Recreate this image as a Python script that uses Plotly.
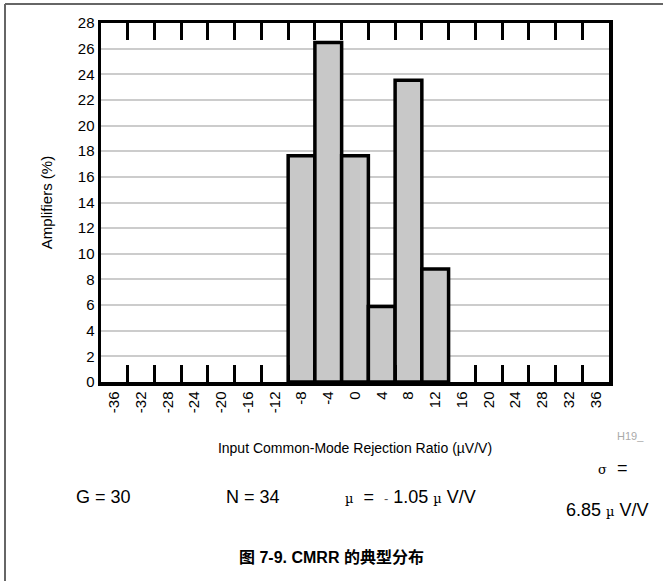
import plotly.graph_objects as go

# Data
bin_centers = [-8, -4, 0, 4, 8, 12]
amplifiers_pct = [17.65, 26.47, 17.65, 5.88, 23.53, 8.82]
tick_centers = list(range(-36, 40, 4))
tick_labels = [str(v) for v in tick_centers]
bin_edges = list(range(-34, 38, 4))
y_ticks = list(range(0, 30, 2))

W, H = 663, 581
L, R, T, B = 101, 609, 23, 382

FONT = "Liberation Sans, Arial, Noto Sans CJK SC, sans-serif"

fig = go.Figure()
fig.add_trace(go.Bar(
    x=bin_centers, y=amplifiers_pct, width=4,
    marker=dict(color="#c8c8c8", line=dict(color="black", width=3.5)),
    showlegend=False, hoverinfo="skip",
))

def px_x(p):
    return (p - L) / (R - L)

def px_y(p):
    return (B - p) / (B - T)

fig.update_layout(
    width=W, height=H,
    margin=dict(l=L, r=W - R, t=T, b=H - B, pad=0),
    paper_bgcolor="white", plot_bgcolor="white",
    font=dict(family=FONT, color="black", size=15),
    bargap=0,
    xaxis=dict(
        range=[-38, 38], tickmode="array", tickvals=tick_centers, ticktext=tick_labels,
        tickangle=-90, ticks="", showgrid=False, zeroline=False,
        showline=True, linecolor="black", linewidth=3.5, mirror="ticks",
        tickfont=dict(size=15),
        minor=dict(tickmode="array", tickvals=bin_edges, ticks="inside", ticklen=17,
                   tickwidth=3, tickcolor="black", showgrid=False),
        title=dict(text="Input Common-Mode Rejection Ratio (µV/V)", font=dict(size=14), standoff=32),
        fixedrange=True,
    ),
    yaxis=dict(
        range=[0, 28], tickmode="array", tickvals=y_ticks, ticks="",
        showgrid=True, gridcolor="#cccccc", gridwidth=2, zeroline=False,
        showline=True, linecolor="black", linewidth=3.5, mirror=True,
        tickfont=dict(size=15),
        title=dict(text="Amplifiers (%)", font=dict(size=15), standoff=22),
        fixedrange=True,
    ),
)

# frame lines
fig.add_shape(type="line", xref="paper", yref="paper",
              x0=px_x(5), x1=px_x(W + 5), y0=px_y(4), y1=px_y(4),
              line=dict(color="#666666", width=2))
fig.add_shape(type="line", xref="paper", yref="paper",
              x0=px_x(5), x1=px_x(5), y0=px_y(4), y1=px_y(H + 5),
              line=dict(color="#666666", width=2))

def ann(text, x, y, size=18, color="black", family=FONT):
    fig.add_annotation(text=text, xref="paper", yref="paper", x=px_x(x), y=px_y(y),
                       showarrow=False, xanchor="center", yanchor="middle",
                       font=dict(size=size, color=color, family=family))

MU = "<span style='font-family:DejaVu Serif;font-size:13px'>µ</span>"
ann("H19_", 630, 436, size=11, color="#aaaaaa")
ann("G = 30", 103, 497)
ann("N = 34", 253, 497)
ann(MU + "  =  <span style='font-size:13px;color:#555'>-</span> 1.05 " + MU + " V/V", 410, 497)
ann("<span style='font-family:DejaVu Serif;font-size:13px'>σ</span>  =", 612, 468)
ann("6.85 " + MU + " V/V", 607, 510)
ann("<b>图 7-9. CMRR 的典型分布</b>", 331, 557, size=16,
    family="Liberation Sans, Noto Sans CJK SC, sans-serif")

fig.write_html("out.html", config={"displayModeBar": False, "staticPlot": True},
               post_script="document.body.style.margin='0px';document.body.style.overflow='hidden';")
